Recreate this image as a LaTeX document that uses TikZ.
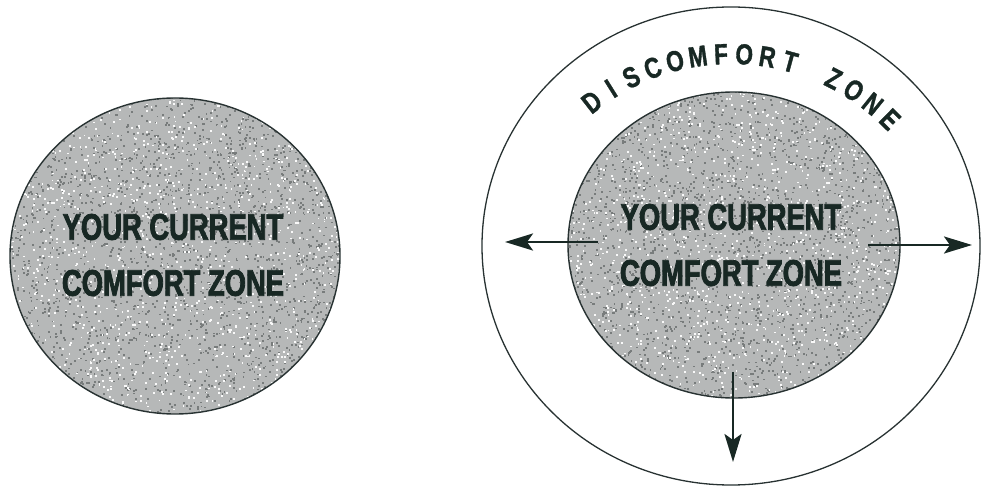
\documentclass[tikz,border=0pt]{standalone}
\usepackage{fontspec}
\usetikzlibrary{arrows.meta,calc}
\newfontfamily\condfont{Liberation Sans}[FakeStretch=0.74, BoldFont={Liberation Sans Bold}, BoldFeatures={FakeStretch=0.74, FakeBold=2.2}]
\newfontfamily\arcfont{Liberation Sans}[FakeStretch=0.78, BoldFont={Liberation Sans Bold}, BoldFeatures={FakeStretch=0.78, FakeBold=1.2}]
\definecolor{inkc}{RGB}{24,40,36}
\definecolor{linec}{RGB}{40,50,50}
\definecolor{zonefill}{RGB}{182,184,184}
\definecolor{speckdark}{RGB}{120,124,124}
\tikzset{
  zone/.style={draw=linec, line width=1.4pt},
  ring/.style={draw=linec, line width=1.3pt},
  zonetext/.style={inner sep=0pt, align=center, text=inkc,
    font=\condfont\bfseries\fontsize{37}{56}\selectfont},
  ringletter/.style={inner sep=0pt, anchor=base, text=inkc,
    font=\arcfont\bfseries\fontsize{29}{29}\selectfont},
  push/.style={draw=inkc, line width=2.6pt,
    -{Stealth[length=28pt, width=17pt, inset=6pt]}}
}
\newcommand\mkspeckle[4]{%
  \begin{scope}
    \clip (#1,#2) ellipse [x radius=#3, y radius=#4];
    \fill[zonefill] (#1,#2) ellipse [x radius=#3, y radius=#4];
    \foreach \k in {1,...,2400}{\fill[speckdark] ({#1+#3*rand},{#2+#4*rand}) rectangle ++(1.8,1.8);}
    \foreach \k in {1,...,1300}{\fill[white!92!zonefill] ({#1+#3*rand},{#2+#4*rand}) rectangle ++(1.8,1.8);}
  \end{scope}}
\begin{document}
\begin{tikzpicture}[x=1pt,y=1pt]
\pgfmathsetseed{11}
\useasboundingbox (0,0) rectangle (982,490);
% left circle
\mkspeckle{175}{234}{165}{158}
\path[zone] (175,234) ellipse [x radius=165, y radius=158];
\node[zonetext] (lefttext) at (173,235) {YOUR CURRENT\\COMFORT ZONE};
% right: discomfort ring
\path[ring] (731,244) ellipse [x radius=249, y radius=239];
\mkspeckle{734}{245}{166}{153}
\path[zone] (734,245) ellipse [x radius=166, y radius=153];
\node[zonetext] (righttext) at (731,245) {YOUR CURRENT\\COMFORT ZONE};
% arrows
\coordinate (lstart) at (598,248);
\coordinate (lend) at (505,248);
\coordinate (rstart) at (868,245);
\coordinate (rend) at (972,245);
\coordinate (dstart) at (733,118);
\coordinate (dend) at (733,28);
\draw[push] (lstart) -- (lend);
\draw[push] (rstart) -- (rend);
\draw[push] (dstart) -- (dend);
% curved label
\coordinate (arcc) at (731,210);
\foreach \ch [count=\i from 0] in {D,I,S,C,O,M,F,O,R,T,{},Z,O,N,E}{
  \pgfmathsetmacro{\ang}{128-\i*5.91}
  \node[ringletter, rotate=\ang-90] (dz\i) at ($(arcc)+(\ang:216)$) {\ch};
}
\end{tikzpicture}
\end{document}
